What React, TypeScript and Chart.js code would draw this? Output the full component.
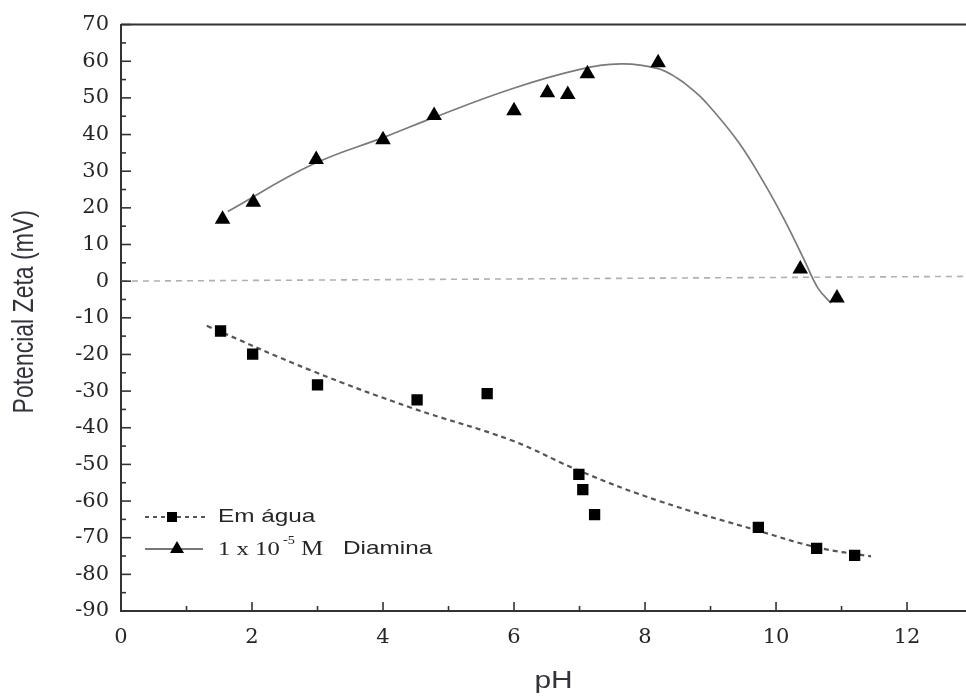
import React, { useEffect, useRef } from "react";
import { Chart, registerables } from "chart.js";

Chart.register(...registerables);

// ---- data ----
const diaminaPH = [1.55, 2.02, 2.98, 4.0, 4.78, 6.0, 6.51, 6.82, 7.12, 8.2, 10.37, 10.93];
const diaminaZeta = [16.9, 21.5, 33.2, 38.6, 45.2, 46.5, 51.4, 50.9, 56.6, 59.6, 3.3, -4.6];

const diaminaFitPH = [1.63, 2.92, 4.05, 4.81, 5.97, 6.99, 7.64, 8.2, 8.5, 8.7, 8.92, 9.42, 9.83, 10.14, 10.44, 10.64, 10.84];
const diaminaFitZeta = [19.0, 31.8, 39.5, 44.9, 52.5, 57.7, 59.3, 58.0, 55.3, 52.6, 49.0, 38.1, 26.4, 16.3, 5.4, -1.9, -6.0];

const aguaPH = [1.52, 2.01, 3.0, 4.52, 5.59, 6.99, 7.05, 7.23, 9.73, 10.62, 11.2];
const aguaZeta = [-13.6, -19.9, -28.3, -32.4, -30.7, -52.7, -56.9, -63.7, -67.2, -72.9, -74.8];

const aguaFitPH = [1.31, 2.92, 4.44, 5.97, 6.99, 8.2, 9.71, 10.64, 11.45];
const aguaFitZeta = [-12.2, -24.5, -34.6, -43.5, -51.7, -59.9, -68.0, -72.7, -75.1];

const zeroLinePH = [0, 12.9];
const zeroLineZeta = [0, 1.3];

const xMin = 0;
const xMax = 12.9;
const yMin = -90;
const yMax = 70;
const xTitle = "pH";
const yTitle = "Potencial Zeta (mV)";
const legendAgua = "Em água";
const legendDiaminaConc = "1 x 10";
const legendDiaminaExp = "-5";
const legendDiaminaUnit = "M";
const legendDiaminaName = "Diamina";

const pts = (xs: number[], ys: number[]) => xs.map((x, i) => ({ x, y: ys[i] }));

const AXIS_COLOR = "#333333";
const TEXT_COLOR = "#262626";

const decorPlugin = {
  id: "decor",
  afterDraw(chart: any) {
    const { ctx, chartArea, scales } = chart;
    const xs = scales.x;
    const ys = scales.y;
    ctx.save();
    // top border
    ctx.strokeStyle = AXIS_COLOR;
    ctx.lineWidth = 2;
    ctx.beginPath();
    ctx.moveTo(chartArea.left, chartArea.top);
    ctx.lineTo(chart.width, chartArea.top);
    ctx.stroke();

    // inward ticks
    ctx.lineWidth = 1.6;
    for (let v = yMin; v <= yMax; v += 5) {
      const p = ys.getPixelForValue(v);
      const len = v % 10 === 0 ? 10 : 5;
      ctx.beginPath();
      ctx.moveTo(chartArea.left, p);
      ctx.lineTo(chartArea.left + len, p);
      ctx.stroke();
    }
    for (let v = 0; v <= Math.floor(xMax); v += 1) {
      const p = xs.getPixelForValue(v);
      const len = v % 2 === 0 ? 9 : 5;
      ctx.beginPath();
      ctx.moveTo(p, chartArea.bottom);
      ctx.lineTo(p, chartArea.bottom - len);
      ctx.stroke();
    }

    // axis titles
    ctx.fillStyle = "#33333d";
    ctx.textAlign = "center";
    ctx.textBaseline = "middle";
    ctx.font = '23px "Liberation Sans"';
    ctx.save();
    ctx.translate((chartArea.left + chartArea.right) / 2 + 10, chartArea.bottom + 71);
    ctx.scale(1.3, 1);
    ctx.fillText(xTitle, 0, 0);
    ctx.restore();

    ctx.save();
    ctx.translate(25, (chartArea.top + chartArea.bottom) / 2 - 6);
    ctx.rotate(-Math.PI / 2);
    ctx.scale(1, 1.25);
    ctx.fillText(yTitle, 0, 0);
    ctx.restore();

    // legend
    const lx = chartArea.left + 24;
    const r1 = chartArea.bottom - 94;
    const r2 = chartArea.bottom - 62;
    // row 1
    ctx.strokeStyle = "#555555";
    ctx.lineWidth = 2;
    ctx.setLineDash([4, 4]);
    ctx.beginPath();
    ctx.moveTo(lx, r1);
    ctx.lineTo(lx + 63, r1);
    ctx.stroke();
    ctx.setLineDash([]);
    ctx.fillStyle = "#000";
    ctx.fillRect(lx + 27 - 5, r1 - 5, 10, 10);
    // row 2
    ctx.strokeStyle = "#777777";
    ctx.lineWidth = 1.8;
    ctx.beginPath();
    ctx.moveTo(lx, r2);
    ctx.lineTo(lx + 58, r2);
    ctx.stroke();
    ctx.fillStyle = "#000";
    ctx.beginPath();
    const tx = lx + 32;
    ctx.moveTo(tx, r2 - 8);
    ctx.lineTo(tx + 7, r2 + 4);
    ctx.lineTo(tx - 7, r2 + 4);
    ctx.closePath();
    ctx.fill();

    ctx.fillStyle = TEXT_COLOR;
    ctx.textAlign = "left";
    ctx.textBaseline = "middle";
    const stretchText = (t: string, x: number, y: number, font: string, sx: number) => {
      ctx.save();
      ctx.font = font;
      ctx.translate(x, y);
      ctx.scale(sx, 1);
      ctx.fillText(t, 0, 0);
      ctx.restore();
    };
    stretchText(legendAgua, lx + 73, r1, '19px "Liberation Sans"', 1.28);
    stretchText(legendDiaminaConc, lx + 73, r2 + 1, '19px "Liberation Serif"', 1.3);
    stretchText(legendDiaminaExp, lx + 138, r2 - 8, '13px "Liberation Serif"', 1.1);
    stretchText(legendDiaminaUnit, lx + 156, r2 + 1, '20px "Liberation Serif"', 1.25);
    stretchText(legendDiaminaName, lx + 198, r2, '19px "Liberation Sans"', 1.28);
    ctx.restore();
  },
};

export default function App() {
  const ref = useRef<HTMLCanvasElement | null>(null);
  useEffect(() => {
    document.body.style.margin = "0";
    const canvas = ref.current;
    if (!canvas) return;
    const chart = new Chart(canvas, {
      type: "scatter",
      data: {
        datasets: [
          {
            label: "Diamina",
            data: pts(diaminaPH, diaminaZeta),
            pointStyle: "triangle",
            pointRadius: 9,
            pointBackgroundColor: "#000",
            pointBorderColor: "#000",
            pointBorderWidth: 0,
            showLine: false,
          },
          {
            label: "Em água",
            data: pts(aguaPH, aguaZeta),
            pointStyle: "rect",
            pointRadius: 8,
            pointBackgroundColor: "#000",
            pointBorderColor: "#000",
            pointBorderWidth: 0,
            showLine: false,
          },
          {
            label: "Diamina fit",
            data: pts(diaminaFitPH, diaminaFitZeta),
            showLine: true,
            pointRadius: 0,
            borderColor: "#7a7a7a",
            borderWidth: 1.7,
            tension: 0.4,
          },
          {
            label: "Em água fit",
            data: pts(aguaFitPH, aguaFitZeta),
            showLine: true,
            pointRadius: 0,
            borderColor: "#555555",
            borderWidth: 2.2,
            borderDash: [5, 4],
            tension: 0.4,
          },
          {
            label: "zero",
            data: pts(zeroLinePH, zeroLineZeta),
            showLine: true,
            pointRadius: 0,
            borderColor: "#b0b0b0",
            borderWidth: 1.6,
            borderDash: [6, 5],
          },
        ],
      },
      options: {
        animation: false,
        responsive: false,
        devicePixelRatio: 1,
        layout: { autoPadding: false, padding: { top: 22, right: 0, bottom: 0, left: 0 } },
        plugins: { legend: { display: false }, tooltip: { enabled: false } },
        scales: {
          x: {
            type: "linear",
            min: xMin,
            max: xMax,
            grid: { display: false, drawTicks: false },
            border: { display: true, color: AXIS_COLOR, width: 2 },
            ticks: {
              stepSize: 2,
              includeBounds: false,
              padding: 14,
              color: TEXT_COLOR,
              font: { family: "DejaVu Serif", size: 21 },
              maxRotation: 0,
            },
            afterFit: (s: any) => {
              s.height = 86;
              s.paddingRight = 0;
              s.paddingLeft = 0;
            },
          },
          y: {
            type: "linear",
            min: yMin,
            max: yMax,
            grid: { display: false, drawTicks: false },
            border: { display: true, color: AXIS_COLOR, width: 2 },
            ticks: {
              stepSize: 10,
              padding: 12,
              color: TEXT_COLOR,
              font: { family: "DejaVu Serif", size: 21 },
            },
            afterFit: (s: any) => {
              s.width = 121;
            },
          },
        },
      },
      plugins: [decorPlugin],
    });
    return () => chart.destroy();
  }, []);
  return (
    <div style={{ width: 966, height: 697 }}>
      <canvas ref={ref} width={966} height={697} style={{ display: "block" }} />
    </div>
  );
}
